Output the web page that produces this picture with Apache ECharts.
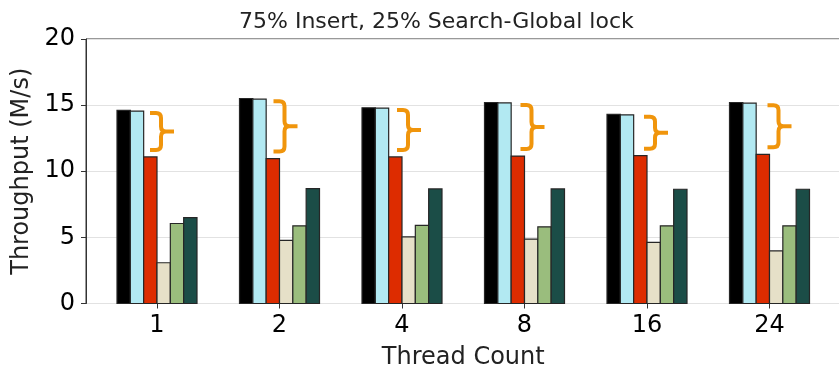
<!DOCTYPE html>
<html>
<head>
<meta charset="utf-8">
<script src="https://cdn.jsdelivr.net/npm/echarts@6/dist/echarts.min.js"></script>
<style>
  html, body { margin: 0; padding: 0; background: #fff; }
  #chart { width: 839px; height: 367px; }
</style>
</head>
<body>
<div id="chart"></div>
<script>
// Thread counts along the x axis
const categories = ['1', '2', '4', '8', '16', '24'];

// Throughput (M/s) per bar group, one array per bar colour
const valuesBlack = [14.6, 15.5, 14.8, 15.2, 14.3, 15.2];
const valuesSky   = [14.55, 15.45, 14.78, 15.17, 14.27, 15.15];
const valuesRed   = [11.08, 10.96, 11.08, 11.15, 11.18, 11.28];
const valuesSand  = [3.08, 4.77, 5.04, 4.87, 4.62, 3.98];
const valuesSage  = [6.05, 5.87, 5.9, 5.8, 5.87, 5.87];
const valuesPine  = [6.5, 8.69, 8.66, 8.66, 8.64, 8.64];

// y axis ticks
const yTicks = [0, 5, 10, 15, 20];

const FONT = 'DejaVu Sans';
const barColors = ['#000000', '#b2e9f2', '#dd2c00', '#e6e0c8', '#9abd7d', '#1b4d47'];
const barSets = [valuesBlack, valuesSky, valuesRed, valuesSand, valuesSage, valuesPine];
const GROUP_FRACTION = 0.653; // share of each category band taken by its six bars

const chart = echarts.init(document.getElementById('chart'), null, { renderer: 'canvas' });

// Touching bars: each series places its rectangle by slot inside the band
const barSeries = barSets.map((vals, k) => ({
  type: 'custom',
  xAxisIndex: 0,
  yAxisIndex: 0,
  silent: true,
  z: 3,
  data: vals.map((v, i) => [i, v]),
  encode: { x: 0, y: 1 },
  renderItem: function (params, api) {
    const i = api.value(0);
    const top = api.coord([i, api.value(1)]);
    const base = api.coord([i, 0]);
    const band = api.size([1, 0])[0];
    const w = band * GROUP_FRACTION / barSets.length;
    const x = top[0] + (k - barSets.length / 2) * w;
    return {
      type: 'rect',
      shape: { x: x, y: top[1], width: w, height: base[1] - top[1] },
      style: { fill: barColors[k], stroke: '#262626', lineWidth: 1.2 }
    };
  }
}));

// Orange braces spanning the gap between the light-blue and red bars
const braceSeries = {
  type: 'custom',
  xAxisIndex: 0,
  yAxisIndex: 0,
  silent: true,
  z: 4,
  data: categories.map((c, i) => [i, valuesSky[i], valuesRed[i]]),
  renderItem: function (params, api) {
    const i = api.value(0);
    const top = api.coord([i, api.value(1)]);
    const bot = api.coord([i, api.value(2)]);
    const yT = top[1] + 2;
    const yB = bot[1] - 7;
    const yM = (yT + yB) / 2;
    const xL = top[0] - 7 + i;
    const xV = xL + 11;
    const xT = xL + 24;
    const r = 5;
    const d =
      'M' + xL + ' ' + yT +
      ' L' + (xV - r) + ' ' + yT +
      ' Q' + xV + ' ' + yT + ' ' + xV + ' ' + (yT + r) +
      ' L' + xV + ' ' + (yM - r) +
      ' Q' + xV + ' ' + yM + ' ' + (xV + r) + ' ' + yM +
      ' L' + xT + ' ' + yM +
      ' M' + (xV + r) + ' ' + yM +
      ' Q' + xV + ' ' + yM + ' ' + xV + ' ' + (yM + r) +
      ' L' + xV + ' ' + (yB - r) +
      ' Q' + xV + ' ' + yB + ' ' + (xV - r) + ' ' + yB +
      ' L' + xL + ' ' + yB;
    return {
      type: 'path',
      shape: { pathData: d },
      style: { fill: null, stroke: '#f0950c', lineWidth: 4, lineCap: 'butt', lineJoin: 'round' }
    };
  }
};

const option = {
  animation: false,
  backgroundColor: '#ffffff',
  title: {
    text: '75% Insert, 25% Search-Global lock',
    left: 234,
    top: 6,
    textStyle: { fontFamily: FONT, fontSize: 22, fontWeight: 'normal', color: '#222' }
  },
  grid: [
    // bars
    { left: 95.75, right: 8.25, top: 39, bottom: 63.5, outerBoundsMode: 'none', containLabel: false },
    // frame, gridlines and y scale
    { left: 86, right: -4, top: 39, bottom: 63.5, outerBoundsMode: 'none', containLabel: false,
      show: true, borderColor: '#333', borderWidth: 1, backgroundColor: 'transparent' }
  ],
  xAxis: [
    {
      type: 'category',
      gridIndex: 0,
      data: categories,
      boundaryGap: true,
      axisLine: { show: false },
      axisTick: { show: true, alignWithLabel: true, length: 5, lineStyle: { color: '#333', width: 1 } },
      axisLabel: { fontFamily: FONT, fontSize: 24, color: '#000', margin: 10 },
      splitLine: { show: false },
      name: 'Thread Count',
      nameLocation: 'middle',
      nameGap: 42,
      nameTextStyle: { fontFamily: FONT, fontSize: 24, color: '#222' }
    },
    {
      type: 'value',
      gridIndex: 1,
      show: false,
      min: 0,
      max: 1
    }
  ],
  yAxis: [
    {
      type: 'value',
      gridIndex: 0,
      min: 0,
      max: 20,
      interval: 5,
      show: false
    },
    {
      type: 'value',
      gridIndex: 1,
      min: 0,
      max: 20,
      interval: 5,
      axisLine: { show: true, lineStyle: { color: '#333', width: 1 } },
      axisTick: { show: true, length: 5, lineStyle: { color: '#333', width: 1 } },
      axisLabel: {
        fontFamily: FONT, fontSize: 24, color: '#000', margin: 11,
        formatter: v => (yTicks.indexOf(v) >= 0 ? String(v) : '')
      },
      splitLine: { show: true, lineStyle: { color: '#e2e2e2', width: 1 } },
      name: 'Throughput (M/s)',
      nameLocation: 'middle',
      nameRotate: 90,
      nameGap: 52,
      nameTextStyle: { fontFamily: FONT, fontSize: 24, color: '#222' }
    }
  ],
  series: barSeries.concat([braceSeries])
};

chart.setOption(option);
</script>
</body>
</html>
